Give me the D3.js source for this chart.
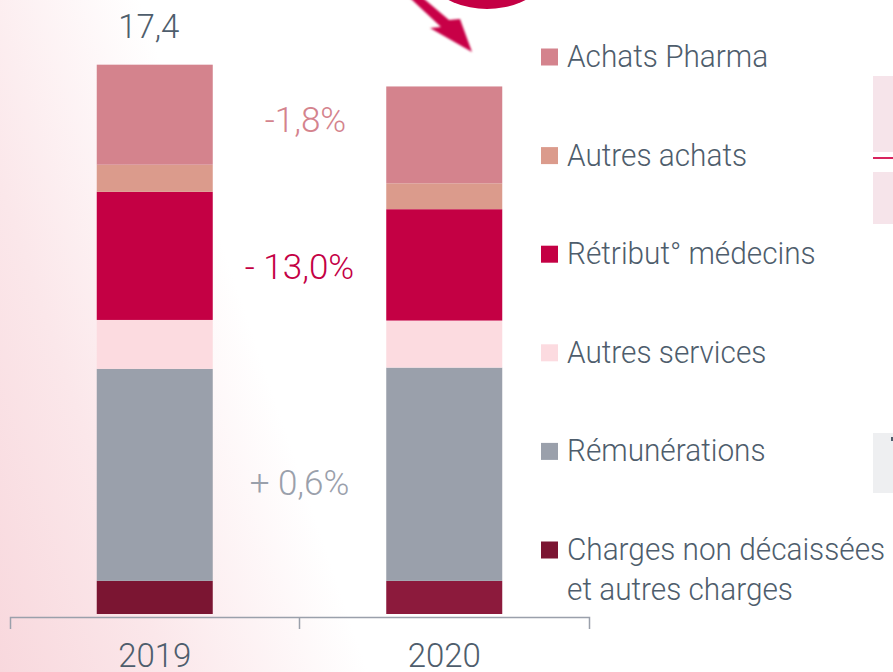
<!DOCTYPE html>
<html>
<head>
<meta charset="utf-8">
<script src="https://cdn.jsdelivr.net/npm/d3@7"></script>
<style>
  html, body { margin: 0; padding: 0; background: #fff; }
  svg { display: block; font-family: Roboto, "DejaVu Sans", sans-serif; }
</style>
</head>
<body>
<div id="chart"></div>
<script>
const w = 893;
const h = 672;

// data (bottom to top)
const years = ["2019", "2020"];
const categories = ["Charges non décaissées et autres charges", "Rémunérations", "Autres services",
    "Rétribut° médecins", "Autres achats", "Achats Pharma"];
const values2019 = [1.05, 6.72, 1.55, 4.06, 0.86, 3.17];
const values2020 = [1.05, 6.76, 1.49, 3.53, 0.82, 3.07];
const totalLabels = ["17,4", ""];
const changeLabels = ["-1,8%", "- 13,0%", "+ 0,6%"];
const changeCategory = [5, 3, 1];

const colors = ["#7b1532", "#9aa0ab", "#fcdbe0", "#c40044", "#db9b8c", "#d4838d"];
const changeColors = ["#d4838d", "#c40044", "#9aa0ab"];
const textColor = "#4e5d6c";

const svg = d3.select("#chart").append("svg")
    .attr("width", w).attr("height", h);

const defs = svg.append("defs");
const grad = defs.append("linearGradient").attr("id", "bg")
    .attr("gradientUnits", "userSpaceOnUse")
    .attr("x1", 0).attr("y1", 672).attr("x2", 330).attr("y2", 560);
grad.append("stop").attr("offset", 0).attr("stop-color", "#f8d8dd");
grad.append("stop").attr("offset", 0.45).attr("stop-color", "#fbe7ea");
grad.append("stop").attr("offset", 1).attr("stop-color", "#ffffff");
defs.append("filter").attr("id", "soft")
    .append("feGaussianBlur").attr("stdDeviation", 0.8);

svg.append("rect").attr("width", w).attr("height", h).attr("fill", "url(#bg)");

// scales
const x = d3.scaleBand().domain(years).range([10, 589]).padding(0);
const barW = 116;
const y = d3.scaleLinear().domain([0, 17.4]).range([614, 65]);

const series = [values2019, values2020];
const stacked = series.map(function(vals) {
    let acc = 0;
    return vals.map(function(v, i) {
        const d = {cat: i, y0: acc, y1: acc + v};
        acc += v;
        return d;
    });
});

// bars
years.forEach(function(yr, j) {
    svg.append("g").selectAll("rect")
        .data(stacked[j])
        .enter()
        .append("rect")
        .attr("x", x(yr) + (x.bandwidth() - barW) / 2)
        .attr("width", barW)
        .attr("y", function(d) { return y(d.y1); })
        .attr("height", function(d) { return y(d.y0) - y(d.y1); })
        .attr("fill", function(d) { return (j === 1 && d.cat === 0) ? "#8c1a3c" : colors[d.cat]; });
    if (totalLabels[j]) {
        svg.append("text")
            .attr("x", x(yr) + x.bandwidth() / 2 - 6)
            .attr("y", y(d3.sum(series[j])) - 27)
            .attr("text-anchor", "middle")
            .attr("font-size", 33)
            .attr("font-weight", 300)
            .attr("fill", textColor)
            .text(totalLabels[j]);
    }
});

// change labels between bars
const changeDy = [7, 19, 20];
const changeDx = [6, 0, 0];
changeLabels.forEach(function(lab, k) {
    const c = changeCategory[k];
    const mid = d3.mean(stacked, function(s) { return y((s[c].y0 + s[c].y1) / 2); });
    svg.append("text")
        .attr("x", (x("2019") + x("2020") + x.bandwidth()) / 2 + changeDx[k])
        .attr("y", mid + changeDy[k])
        .attr("text-anchor", "middle")
        .attr("font-size", 35)
        .attr("font-weight", 300)
        .attr("fill", changeColors[k])
        .text(lab);
});

// axis
const axis = svg.append("g").attr("transform", "translate(0,617)")
    .call(d3.axisBottom(x).tickSizeInner(0).tickSizeOuter(12).tickPadding(0));
axis.select(".domain").attr("stroke", "#9aa0ab").attr("stroke-width", 1.5);
axis.selectAll(".tick text").attr("font-size", 33).attr("font-weight", 300)
    .attr("fill", textColor).attr("font-family", "Roboto").attr("dy", 0).attr("y", 50);
axis.append("line").attr("x1", x("2020")).attr("x2", x("2020"))
    .attr("y1", 0).attr("y2", 12).attr("stroke", "#9aa0ab").attr("stroke-width", 1.5);

// legend
const legendCats = categories.slice().reverse();
const legendColors = colors.slice().reverse();
const lg = svg.append("g").selectAll("g")
    .data(legendCats)
    .enter()
    .append("g")
    .attr("transform", function(d, i) { return "translate(541," + (57 + i * 98.6) + ")"; });
lg.append("rect").attr("x", 0).attr("y", -8.5).attr("width", 17).attr("height", 17)
    .attr("fill", function(d, i) { return legendColors[i]; });
lg.each(function(d) {
    const t = d3.select(this).append("text")
        .attr("transform", "translate(26,10) scale(0.93,1)")
        .attr("font-size", 32)
        .attr("font-weight", 300)
        .attr("fill", textColor);
    const parts = d === categories[0] ? ["Charges non décaissées", "et autres charges"] : [d];
    parts.forEach(function(p, i) {
        t.append("tspan").attr("x", 0).attr("dy", i ? 40 : 0).text(p);
    });
});

// decoration: circle and arrow at top
svg.append("circle").attr("cx", 487).attr("cy", -78).attr("r", 87).attr("fill", "#c40044");
svg.append("path")
    .attr("d", "M410,-2 L423,-2 L449,20 L460,19 L472,52 L430,28 L441,27 Z")
    .attr("fill", "#c80046").attr("filter", "url(#soft)");

// partial panels on right edge
svg.append("rect").attr("x", 873).attr("y", 76).attr("width", 30).attr("height", 76).attr("fill", "#f6e4ea");
svg.append("rect").attr("x", 873).attr("y", 157).attr("width", 30).attr("height", 2).attr("fill", "#d8245e");
svg.append("rect").attr("x", 873).attr("y", 172).attr("width", 30).attr("height", 52).attr("fill", "#f6e4ea");
svg.append("rect").attr("x", 873).attr("y", 433).attr("width", 30).attr("height", 60).attr("fill", "#eeeff1");
svg.append("rect").attr("x", 891).attr("y", 437).attr("width", 2).attr("height", 4).attr("fill", "#4e5d6c");
</script>
</body>
</html>
